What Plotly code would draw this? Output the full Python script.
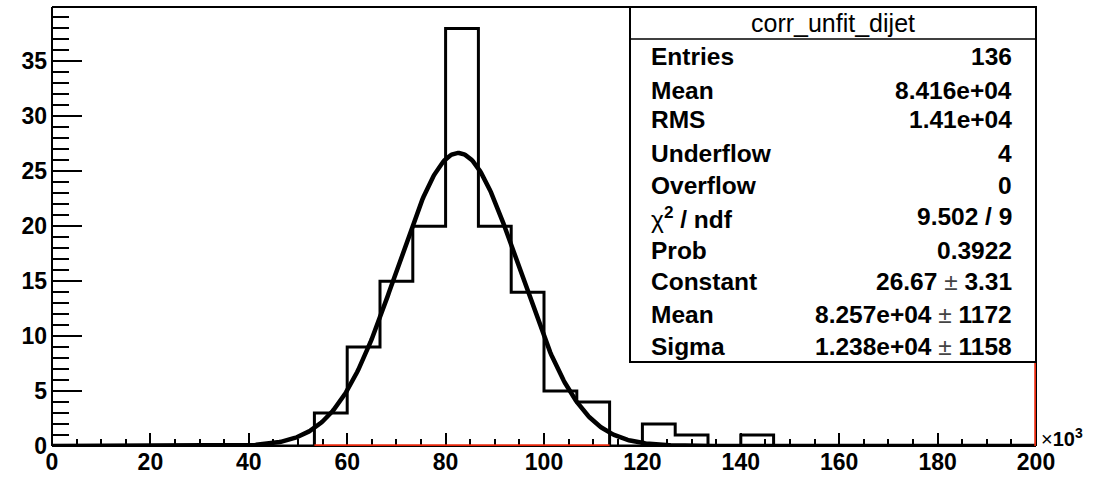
import numpy as np
import plotly.graph_objects as go

# ---------------- data ----------------
n_bins = 30
x_min_k, x_max_k = 0, 200            # x axis in units of 10^3
bin_counts = [0, 0, 0, 0, 0, 0, 0, 0, 3, 9, 15, 20, 38, 20, 14, 5, 4, 0, 2, 1,
              0, 1, 0, 0, 0, 0, 0, 0, 0, 0]
fit_constant = 26.67
fit_mean_k = 82.57
fit_sigma_k = 12.38

x_tick_vals = [0, 20, 40, 60, 80, 100, 120, 140, 160, 180, 200]
y_tick_vals = [0, 5, 10, 15, 20, 25, 30, 35]
y_max = 39.95

stats_title = "corr_unfit_dijet"
stat_names = ["Entries", "Mean", "RMS", "Underflow", "Overflow", "chi2/ndf",
              "Prob", "Constant", "Mean", "Sigma"]
stat_values = ["136", "8.416e+04", "1.41e+04", "4", "0", "9.502 / 9", "0.3922",
               "26.67 ± 3.31", "8.257e+04 ± 1172", "1.238e+04 ± 1158"]
red_bins = [8, 17]   # red segment along the baseline spans these bin edges

# ---------------- layout geometry ----------------
W, H = 1095, 477
ML, MR, MT, MB = 52, 59, 7, 31
PW, PH = W - ML - MR, H - MT - MB


def px(xp):
    return (xp - ML) / PW


def py(yp):
    return (H - MB - yp) / PH


FONT = "Liberation Sans, Arial, Helvetica, sans-serif"

edges = np.linspace(x_min_k, x_max_k, n_bins + 1)
step_x = list(edges)
step_y = list(bin_counts) + [bin_counts[-1]]

xf = np.linspace(x_min_k, x_max_k, 801)
yf = fit_constant * np.exp(-0.5 * ((xf - fit_mean_k) / fit_sigma_k) ** 2)

RED = "#e8280c"
fig = go.Figure()
fig.add_trace(go.Scatter(x=step_x, y=step_y, mode="lines", line_shape="hv",
                         line=dict(color="black", width=3), cliponaxis=False,
                         hoverinfo="skip"))
fig.add_trace(go.Scatter(x=xf, y=yf, mode="lines",
                         line=dict(color="black", width=4.5), cliponaxis=False,
                         hoverinfo="skip"))

shapes = []
# frame: left, top, bottom, right lines
for (x0, y0, x1, y1) in [(0, 0, 0, 1), (0, 1, 1, 1), (0, 0, 1, 0), (1, 0, 1, 1)]:
    shapes.append(dict(type="line", xref="paper", yref="paper",
                       x0=x0, y0=y0, x1=x1, y1=y1,
                       line=dict(color="black", width=2), layer="above"))
# red baseline segment and red right edge (data coordinates)
shapes.append(dict(type="line", xref="x", yref="y",
                   x0=edges[red_bins[0]], x1=edges[red_bins[1]], y0=0, y1=0,
                   line=dict(color=RED, width=3.5), layer="above"))
shapes.append(dict(type="line", xref="x", yref="y",
                   x0=x_max_k, x1=x_max_k, y0=0, y1=y_max,
                   line=dict(color=RED, width=3.5), layer="above"))
# stats box
bx0, bx1, by0, by1 = 630, 1036, 7, 362
shapes.append(dict(type="rect", xref="paper", yref="paper",
                   x0=px(bx0), x1=px(bx1), y0=py(by1), y1=py(by0),
                   fillcolor="white", line=dict(color="black", width=2),
                   layer="above"))
shapes.append(dict(type="line", xref="paper", yref="paper",
                   x0=px(bx0), x1=px(bx1), y0=py(39), y1=py(39),
                   line=dict(color="black", width=1.5), layer="above"))

annotations = []
annotations.append(dict(xref="paper", yref="paper", x=px((bx0 + bx1) / 2),
                        y=py(23), text=stats_title, showarrow=False,
                        xanchor="center", yanchor="middle",
                        font=dict(family=FONT, size=25, color="black")))

row_y = [56.7, 90.7, 120, 154.3, 186.3, 216.7, 250.7, 281.7, 315, 346.7]
NORMAL = "<span style='font-weight:normal'>"


def fmt_label(s):
    if s == "chi2/ndf":
        return NORMAL + "χ</span><sup>2</sup> / ndf"
    return s


def fmt_value(s):
    return s.replace("±", NORMAL + "<span style='color:#444'>±</span></span>")


for name, val, yy in zip(stat_names, stat_values, row_y):
    off = 1.0 if name == "chi2/ndf" else -0.5
    annotations.append(dict(xref="paper", yref="paper", x=px(649), y=py(yy + off),
                            text=fmt_label(name), showarrow=False,
                            xanchor="left", yanchor="middle",
                            font=dict(family=FONT, size=24.5, color="black",
                                      weight="bold")))
    annotations.append(dict(xref="paper", yref="paper", x=px(1014), y=py(yy - 0.5),
                            text=fmt_value(val), showarrow=False,
                            xanchor="right", yanchor="middle",
                            font=dict(family=FONT, size=24.5, color="black",
                                      weight="bold")))

# x10^3 exponent label
annotations.append(dict(xref="paper", yref="paper", x=px(1039), y=py(437),
                        text=NORMAL + "×</span>10<sup>3</sup>", showarrow=False,
                        xanchor="left", yanchor="middle",
                        font=dict(family=FONT, size=20, color="black",
                                  weight="bold")))

fig.update_layout(
    width=W, height=H,
    margin=dict(l=ML, r=MR, t=MT, b=MB, pad=0, autoexpand=False),
    paper_bgcolor="white", plot_bgcolor="white",
    showlegend=False,
    shapes=shapes, annotations=annotations,
    xaxis=dict(range=[x_min_k, x_max_k], tickvals=x_tick_vals,
               ticktext=[str(v) for v in x_tick_vals], automargin=False,
               ticks="inside", ticklen=13, tickwidth=1.5, tickcolor="black",
               minor=dict(dtick=5, tick0=0, ticks="inside", ticklen=7,
                          tickwidth=1.5, tickcolor="black", showgrid=False),
               showline=False, showgrid=False, zeroline=False,
               tickfont=dict(family=FONT, size=23, color="black", weight="bold")),
    yaxis=dict(range=[0, y_max], tickvals=y_tick_vals,
               ticktext=[str(v) for v in y_tick_vals], automargin=False,
               ticks="inside", ticklen=30, tickwidth=1.5, tickcolor="black",
               minor=dict(dtick=1, tick0=0, ticks="inside", ticklen=17,
                          tickwidth=1.5, tickcolor="black", showgrid=False),
               showline=False, showgrid=False, zeroline=False,
               ticklabelstandoff=4,
               tickfont=dict(family=FONT, size=23, color="black", weight="bold")),
)

fig.write_html("out.html", config={"displayModeBar": False},
               post_script="document.body.style.margin='0px';"
                           "document.body.style.padding='0px';")
